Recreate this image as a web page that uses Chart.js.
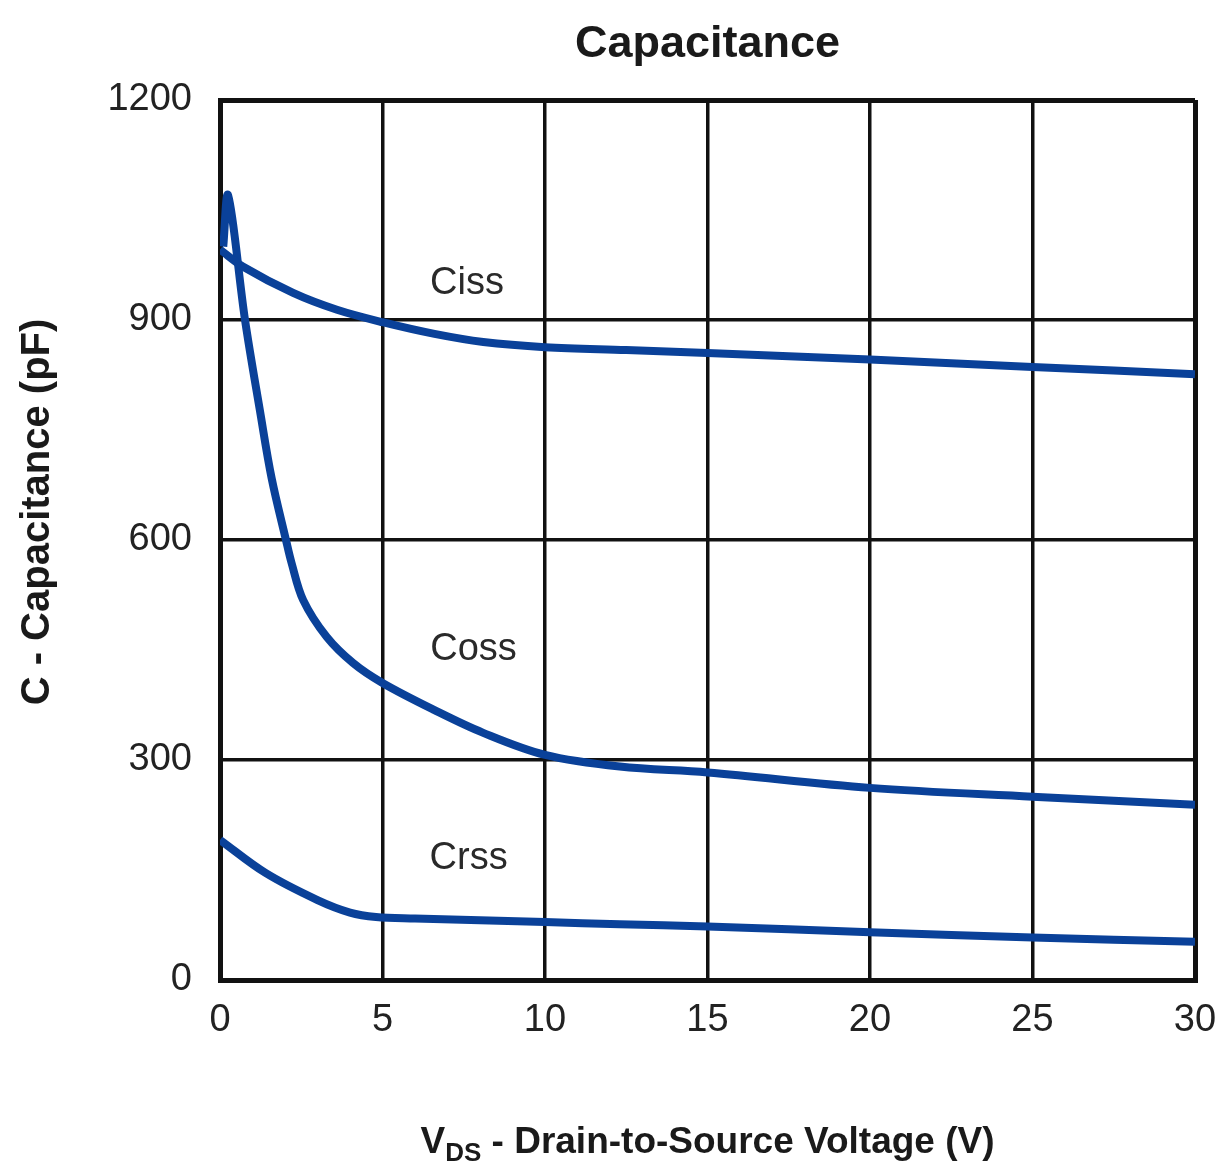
<!DOCTYPE html>
<html>
<head>
<meta charset="utf-8">
<script src="https://cdn.jsdelivr.net/npm/chart.js@4/dist/chart.umd.min.js"></script>
<style>
  html, body { margin: 0; padding: 0; background: #ffffff; }
  #wrap { position: relative; width: 1224px; height: 1170px; }
</style>
</head>
<body>
<div id="wrap"><canvas id="c" width="1224" height="1170"></canvas></div>
<script>
// ---- Data ----
const chartTitle = "Capacitance";
const yAxisTitle = "C - Capacitance (pF)";
const xAxisTitleMain = "V";
const xAxisTitleSub = "DS";
const xAxisTitleRest = " - Drain-to-Source Voltage (V)";

const xTicks = [0, 5, 10, 15, 20, 25, 30];
const yTicks = [0, 300, 600, 900, 1200];

const cissV = [0, 0.7, 2.25, 3.6, 5, 6.6, 8.1, 10, 12.5, 15, 20, 25, 30];
const cissC = [996, 973, 937, 914, 897, 881, 870, 863, 859, 855, 846, 836, 826];

const cossV = [0.1, 0.25, 0.77, 1.23, 1.59, 2.03, 2.2, 2.56, 3.28, 4.1, 5, 6.6, 8.1, 10, 12.3, 15, 20, 25, 30];
const cossC = [1000, 1070, 900, 776, 684, 600, 569, 518, 468, 432, 405, 368, 337, 307, 291, 283, 262, 250, 239];

const crssV = [0, 1.4, 3, 4, 4.8, 6, 10, 12.3, 15, 20, 25, 30];
const crssC = [191, 146, 109, 92, 86, 84, 79, 76, 73, 65, 58, 52];

const seriesNames = ["Ciss", "Coss", "Crss"];
// label anchor positions in data units (V, pF)
const labelV = [7.6, 7.8, 7.65];
const labelC = [950, 450, 166];

// ---- helpers ----
const toPts = (xs, ys) => xs.map((x, i) => ({ x: x, y: ys[i] }));
const LINE = '#0a4199';
const INK = '#1a1a1a';

const labelsPlugin = {
  id: 'extraText',
  afterDatasetsDraw(chart) {
    const { ctx, scales: { x, y } } = chart;
    ctx.save();
    ctx.fillStyle = '#2a2a2a';
    ctx.font = '38px "Liberation Sans", Arial, sans-serif';
    ctx.textAlign = 'center';
    ctx.textBaseline = 'middle';
    seriesNames.forEach((n, i) => {
      ctx.fillText(n, x.getPixelForValue(labelV[i]), y.getPixelForValue(labelC[i]));
    });
    ctx.restore();
  },
  afterDraw(chart) {
    const { ctx, chartArea } = chart;
    ctx.save();
    ctx.fillStyle = INK;
    ctx.font = 'bold 40px "Liberation Sans", Arial, sans-serif';
    ctx.translate(38, 512);
    ctx.rotate(-Math.PI / 2);
    ctx.textAlign = 'center';
    ctx.textBaseline = 'middle';
    ctx.fillText(yAxisTitle, 0, 0);
    ctx.restore();

    ctx.save();
    ctx.fillStyle = INK;
    const big = 'bold 37px "Liberation Sans", Arial, sans-serif';
    const small = 'bold 26px "Liberation Sans", Arial, sans-serif';
    ctx.font = big;
    const w1 = ctx.measureText(xAxisTitleMain).width;
    const w3 = ctx.measureText(xAxisTitleRest).width;
    ctx.font = small;
    const w2 = ctx.measureText(xAxisTitleSub).width;
    const total = w1 + w2 + w3;
    const cx = (chartArea.left + chartArea.right) / 2;
    let xx = cx - total / 2;
    const base = 1153;
    ctx.textAlign = 'left';
    ctx.textBaseline = 'alphabetic';
    ctx.font = big;
    ctx.fillText(xAxisTitleMain, xx, base);
    xx += w1;
    ctx.font = small;
    ctx.fillText(xAxisTitleSub, xx, base + 8);
    xx += w2;
    ctx.font = big;
    ctx.fillText(xAxisTitleRest, xx, base);
    ctx.restore();
  }
};

const ds = (name, xs, ys) => ({
  label: name,
  data: toPts(xs, ys),
  borderColor: LINE,
  backgroundColor: LINE,
  borderWidth: 8,
  pointRadius: 0,
  fill: false,
  tension: 0.35,
  borderCapStyle: 'butt',
  borderJoinStyle: 'round'
});

const gridW = (ctx) => (ctx.tick && (ctx.tick.value === 1200 || ctx.tick.value === 30 || ctx.tick.value === 0)) ? 5 : 3.5;

new Chart(document.getElementById('c'), {
  type: 'line',
  data: {
    datasets: [
      ds(seriesNames[0], cissV, cissC),
      ds(seriesNames[1], cossV, cossC),
      ds(seriesNames[2], crssV, crssC)
    ]
  },
  options: {
    responsive: false,
    animation: false,
    devicePixelRatio: 1,
    layout: { padding: { left: 0, right: 0, top: 0, bottom: 0 } },
    plugins: {
      legend: { display: false },
      tooltip: { enabled: false },
      title: {
        display: true,
        text: chartTitle,
        fullSize: false,
        color: INK,
        font: { family: '"Liberation Sans", Arial, sans-serif', size: 45, weight: 'bold' },
        padding: { top: 18, bottom: 28 }
      }
    },
    scales: {
      x: {
        type: 'linear',
        min: 0,
        max: 30,
        afterBuildTicks: (s) => { s.ticks = xTicks.map(v => ({ value: v })); },
        afterFit: (s) => { s.height = 190; s.paddingRight = 29; s.paddingLeft = 0; },
        grid: { color: '#111', lineWidth: gridW, drawTicks: false },
        border: { display: true, color: '#111', width: 5 },
        ticks: {
          color: '#222',
          padding: 18,
          maxRotation: 0,
          callback: (v) => String(v),
          font: { family: '"Liberation Sans", Arial, sans-serif', size: 38 }
        }
      },
      y: {
        type: 'linear',
        min: 0,
        max: 1200,
        afterBuildTicks: (s) => { s.ticks = yTicks.map(v => ({ value: v })); },
        afterFit: (s) => { s.width = 220; },
        grid: { color: '#111', lineWidth: gridW, drawTicks: false },
        border: { display: true, color: '#111', width: 5 },
        ticks: {
          color: '#222',
          padding: 28,
          callback: (v) => String(v),
          font: { family: '"Liberation Sans", Arial, sans-serif', size: 38 }
        }
      }
    }
  },
  plugins: [labelsPlugin]
});
</script>
</body>
</html>
